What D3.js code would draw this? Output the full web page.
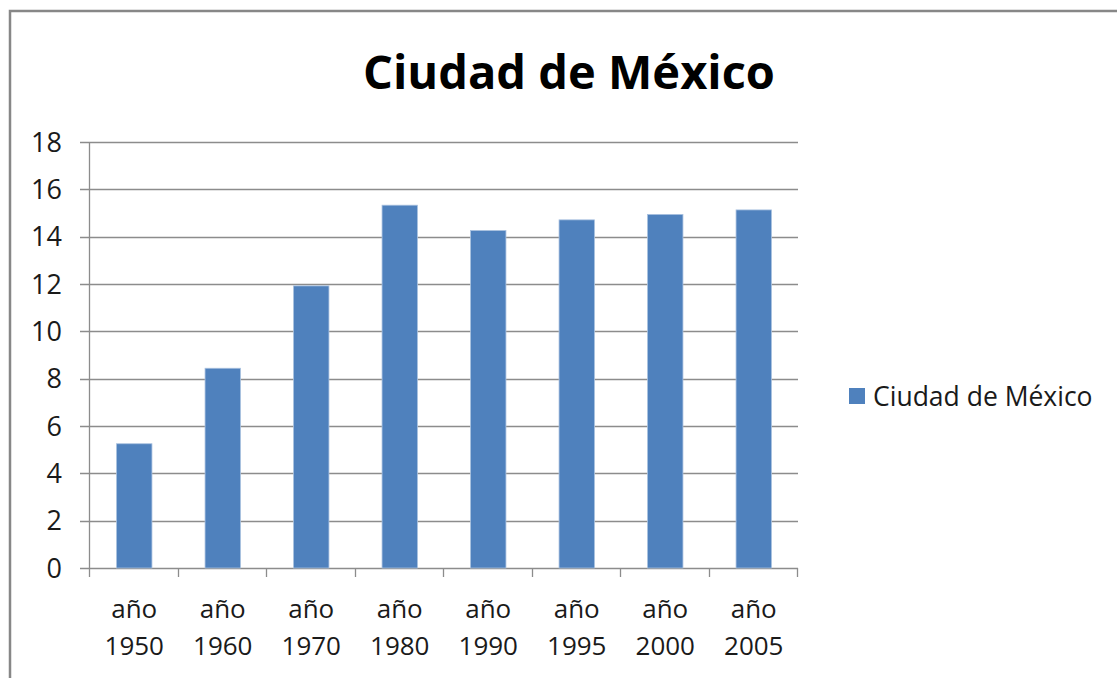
<!DOCTYPE html>
<html>
<head>
<meta charset="utf-8">
<script src="https://cdn.jsdelivr.net/npm/d3@7"></script>
<style>
  body { margin: 0; background: #fff; }
  svg { display: block; }
  text { font-family: 'Open Sans', 'DejaVu Sans', sans-serif; fill: #1a1a1a; }
</style>
</head>
<body>
<div id="chart"></div>
<script>
const categories = ['1950', '1960', '1970', '1980', '1990', '1995', '2000', '2005'];
const values = [5.25, 8.44, 11.92, 15.33, 14.26, 14.71, 14.94, 15.13];
const yTicks = [0, 2, 4, 6, 8, 10, 12, 14, 16, 18];
const title = 'Ciudad de México';
const seriesName = 'Ciudad de México';

const W = 1117, H = 678;
const margin = { top: 142, left: 90, right: 319, bottom: 110 };
const width = W - margin.left - margin.right;
const height = H - margin.top - margin.bottom;

const svg = d3.select('#chart').append('svg')
  .attr('width', W).attr('height', H);

// outer frame (runs off the right and bottom edges)
svg.append('rect')
  .attr('x', 10).attr('y', 11)
  .attr('width', W + 20).attr('height', H + 20)
  .attr('fill', 'none').attr('stroke', '#878787').attr('stroke-width', 2.5);

svg.append('text')
  .attr('x', 569).attr('y', 89)
  .attr('text-anchor', 'middle')
  .style('font-size', '47px').style('font-weight', 700)
  .style('fill', '#000')
  .text(title);

const g = svg.append('g').attr('transform', `translate(${margin.left},${margin.top})`);

const x = d3.scaleBand().domain(categories).range([0, width]).paddingInner(0.6).paddingOuter(0.3);
const xOuter = d3.scaleBand().domain(categories).range([0, width]);
const y = d3.scaleLinear().domain([0, 18]).range([height, 0]);

// gridlines
g.append('g').selectAll('line').data(yTicks).enter().append('line')
  .attr('x1', -10).attr('x2', width)
  .attr('y1', d => Math.round(y(d)) + 0.5).attr('y2', d => Math.round(y(d)) + 0.5)
  .attr('stroke', '#8c8c8c').attr('stroke-width', 1.3);

// y axis line
g.append('line')
  .attr('x1', -0.5).attr('x2', -0.5).attr('y1', 0).attr('y2', height)
  .attr('stroke', '#8c8c8c').attr('stroke-width', 1.3);

// y tick labels
g.append('g').selectAll('text').data(yTicks).enter().append('text')
  .attr('x', -28).attr('y', d => y(d))
  .attr('dy', '0.36em')
  .attr('text-anchor', 'end')
  .style('font-size', '27px')
  .text(d => d);

// x ticks at category boundaries
const bounds = categories.map(c => xOuter(c)).concat([width]);
g.append('g').selectAll('line').data(bounds).enter().append('line')
  .attr('x1', d => Math.round(d) - 0.5).attr('x2', d => Math.round(d) - 0.5)
  .attr('y1', height).attr('y2', height + 9)
  .attr('stroke', '#8c8c8c').attr('stroke-width', 1.3);

// bars
g.append('g').selectAll('rect').data(values).enter().append('rect')
  .attr('x', (d, i) => x(categories[i]))
  .attr('width', x.bandwidth())
  .attr('y', d => y(d))
  .attr('height', d => height - y(d))
  .attr('fill', '#4f81bd')
  .attr('stroke', '#a9c1df').attr('stroke-width', 0.8);

// x labels
const xl = g.append('g').selectAll('text').data(categories).enter().append('text')
  .attr('x', d => xOuter(d) + xOuter.bandwidth() / 2)
  .attr('text-anchor', 'middle')
  .style('font-size', '26px');
xl.append('tspan').attr('x', d => xOuter(d) + xOuter.bandwidth() / 2).attr('y', height + 50).text('año');
xl.append('tspan').attr('x', d => xOuter(d) + xOuter.bandwidth() / 2).attr('y', height + 87).text(d => d);

// legend
const legend = svg.append('g').attr('transform', 'translate(849,388)');
legend.append('rect').attr('width', 16).attr('height', 16).attr('fill', '#4f81bd');
legend.append('text').attr('x', 24).attr('y', 8).attr('dy', '0.36em')
  .style('font-size', '26.5px').text(seriesName);
</script>
</body>
</html>
